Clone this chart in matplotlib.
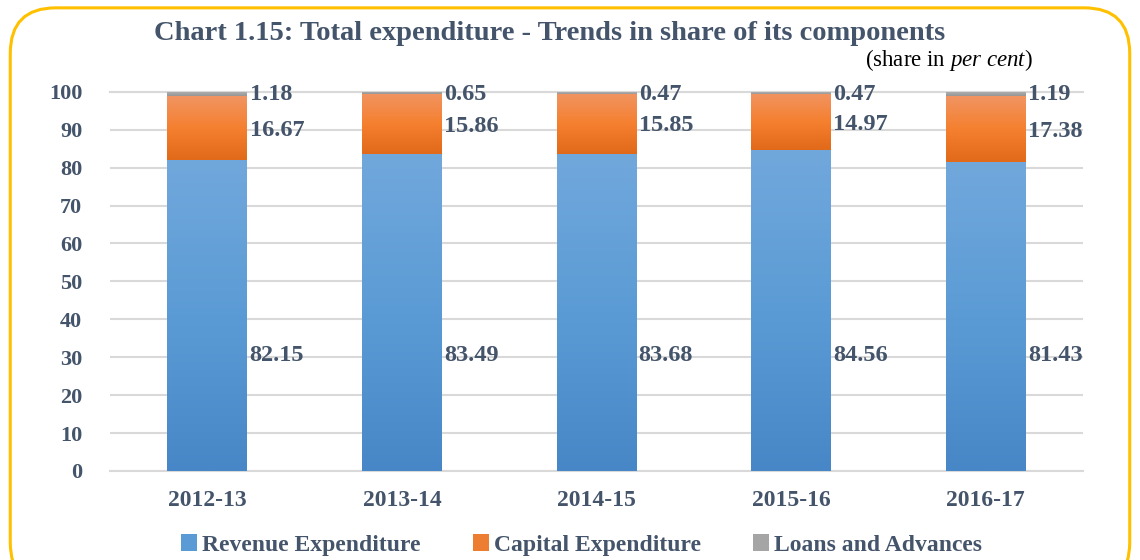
import matplotlib
matplotlib.use("Agg")
import matplotlib.pyplot as plt
import numpy as np
from matplotlib.colors import LinearSegmentedColormap
from matplotlib.patches import FancyBboxPatch

categories = ["2012-13", "2013-14", "2014-15", "2015-16", "2016-17"]
revenue = [82.15, 83.49, 83.68, 84.56, 81.43]
capital = [16.67, 15.86, 15.85, 14.97, 17.38]
loans = [1.18, 0.65, 0.47, 0.47, 1.19]
series_names = ["Revenue Expenditure", "Capital Expenditure", "Loans and Advances"]

TXT = "#44546A"
plt.rcParams['font.family'] = ['Liberation Serif', 'DejaVu Serif']
plt.rcParams['mathtext.fontset'] = 'custom'
plt.rcParams['mathtext.rm'] = 'Liberation Serif'
plt.rcParams['mathtext.it'] = 'Liberation Serif:italic'

fig = plt.figure(figsize=(11.4, 5.6), dpi=100)
ax = fig.add_axes([0.0965, 0.159, 0.8535, 0.677])

x = np.arange(len(categories))
w = 0.41
grads = [
    ["#71A8DC", "#5B9BD5", "#4787C7"],
    ["#F19462", "#F5802F", "#E1691A"],
    ["#B0B0B0", "#A5A5A5", "#959595"],
]
solid = ["#5B9BD5", "#ED7D31", "#A5A5A5"]

bottoms = np.zeros(len(categories))
for vals, g, c, name in zip([revenue, capital, loans], grads, solid, series_names):
    bars = ax.bar(x, vals, w, bottom=bottoms, color=c, label=name, zorder=2)
    cmap = LinearSegmentedColormap.from_list("g", g[::-1])
    grad = np.linspace(0, 1, 256).reshape(-1, 1)
    for b in bars:
        x0, y0 = b.get_x(), b.get_y()
        bw, bh = b.get_width(), b.get_height()
        im = ax.imshow(grad, cmap=cmap, aspect="auto", origin="lower",
                       extent=[x0, x0 + bw, y0, y0 + bh], zorder=3)
        im.set_clip_path(b)
    bottoms = bottoms + np.array(vals)

ax.set_xlim(-0.5, len(categories) - 0.5)
ax.set_ylim(0, 100)
ax.set_yticks(range(0, 101, 10))
ax.yaxis.grid(True, color="#D9D9D9", linewidth=1.5, zorder=0)
ax.set_axisbelow(True)
for s in ax.spines.values():
    s.set_visible(False)
ax.tick_params(axis="both", length=0, colors=TXT)
ax.tick_params(axis="y", pad=20, labelsize=16)
ax.tick_params(axis="x", pad=14, labelsize=17)
ax.set_xticks(x)
ax.set_xticklabels(categories, fontweight="bold")
for lab in ax.get_yticklabels():
    lab.set_fontweight("bold")

ax.axhline(0, color="#D9D9D9", linewidth=1.5, zorder=1, clip_on=False)
ax.axhline(100, color="#D9D9D9", linewidth=1.5, zorder=1, clip_on=False)

lab_kw = dict(fontsize=17.5, fontweight="bold", color=TXT, va="center", ha="left")
for i in range(len(categories)):
    xr = x[i] + w / 2 + 0.012
    ax.text(xr, 30.5, f"{revenue[i]:.2f}", **lab_kw)
    ax.text(xr, revenue[i] + capital[i] / 2 - 0.6, f"{capital[i]:.2f}", **lab_kw)
    ax.text(xr, 99.3, f"{loans[i]:.2f}", **lab_kw)

fig.text(0.482, 0.94, "Chart 1.15: Total expenditure - Trends in share of its components",
         ha="center", va="center", fontsize=20.5, fontweight="bold", color=TXT)
fig.text(0.906, 0.893, "(share in $\\it{per\\ cent}$)", ha="right", va="center",
         fontsize=16.5, color="black")

handles, labels = ax.get_legend_handles_labels()
leg = fig.legend(handles, labels, loc="center", bbox_to_anchor=(0.51, 0.027), ncol=3,
                 frameon=False, handlelength=0.7, handleheight=0.7, handletextpad=0.2,
                 columnspacing=2.2, prop={"size": 17, "weight": "bold"})
for t in leg.get_texts():
    t.set_color(TXT)

border = FancyBboxPatch((0.009, -0.05), 0.982, 1.036, boxstyle="round,pad=0,rounding_size=0.04",
                        transform=fig.transFigure, fill=False, edgecolor="#FFC000",
                        linewidth=2.2, mutation_aspect=1140/560, clip_on=False)
fig.patches.append(border)

fig.savefig("out.png", dpi=100)
